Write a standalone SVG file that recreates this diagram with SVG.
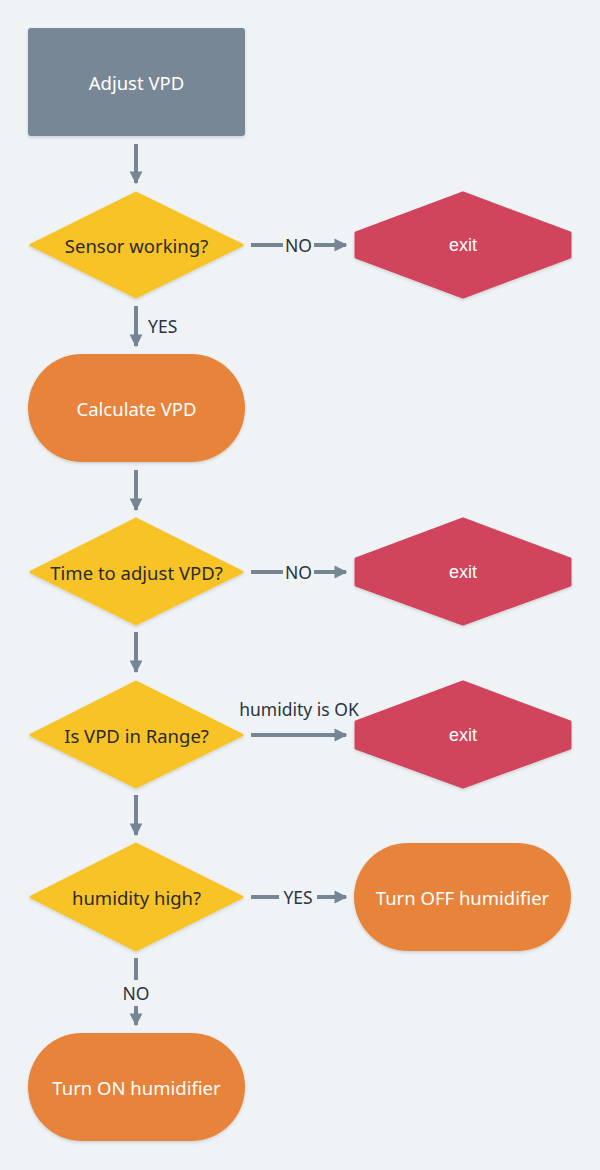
<svg xmlns="http://www.w3.org/2000/svg" width="600" height="1170" viewBox="0 0 600 1170">
<defs>
<marker id="ah" viewBox="0 0 10 10" refX="9" refY="5" markerWidth="3.2" markerHeight="3.4" orient="auto" markerUnits="strokeWidth">
<path d="M0,0 L10,5 L0,10 z" fill="#768594"/>
</marker>
<filter id="sh" x="-10%" y="-10%" width="120%" height="130%">
<feDropShadow dx="0" dy="1.5" stdDeviation="1.5" flood-color="#000" flood-opacity="0.15"/>
</filter>
<style>
.t{font-family:"Noto Sans","DejaVu Sans",sans-serif;font-size:18.5px;text-anchor:middle;dominant-baseline:central}
.w{fill:#ffffff}
.d{fill:#2b2b2b}
.x{font-family:"Liberation Sans",Arial,sans-serif;font-size:18px}
.l{font-family:"Noto Sans","DejaVu Sans",sans-serif;font-size:17.5px;fill:#2b3440;dominant-baseline:central}
.c{stroke:#768594;stroke-width:4;fill:none}
.dia{fill:#f7c325;stroke:#f7c325;stroke-width:3;stroke-linejoin:round;filter:url(#sh)}
.ex{fill:#d1445c;stroke:#d1445c;stroke-width:3;stroke-linejoin:round;filter:url(#sh)}
.or{fill:#e8833a;filter:url(#sh)}
</style>
</defs>
<rect width="600" height="1170" fill="#eff3f6"/>
<g id="connectors">
<line class="c" x1="136" y1="144" x2="136" y2="183" marker-end="url(#ah)"/>
<line class="c" x1="251" y1="245" x2="283" y2="245"/>
<line class="c" x1="314" y1="245" x2="346" y2="245" marker-end="url(#ah)"/>
<text class="l" x="298.5" y="245" text-anchor="middle">NO</text>
<line class="c" x1="136" y1="306" x2="136" y2="346" marker-end="url(#ah)"/>
<text class="l" x="148" y="326">YES</text>
<line class="c" x1="136" y1="470" x2="136" y2="510" marker-end="url(#ah)"/>
<line class="c" x1="251" y1="572" x2="283" y2="572"/>
<line class="c" x1="314" y1="572" x2="346" y2="572" marker-end="url(#ah)"/>
<text class="l" x="298.5" y="572" text-anchor="middle">NO</text>
<line class="c" x1="136" y1="632" x2="136" y2="672" marker-end="url(#ah)"/>
<line class="c" x1="251" y1="735" x2="346" y2="735" marker-end="url(#ah)"/>
<text class="l" x="299" y="709" text-anchor="middle">humidity is OK</text>
<line class="c" x1="136" y1="795" x2="136" y2="835" marker-end="url(#ah)"/>
<line class="c" x1="251" y1="897" x2="279" y2="897"/>
<line class="c" x1="317" y1="897" x2="346" y2="897" marker-end="url(#ah)"/>
<text class="l" x="298" y="897" text-anchor="middle">YES</text>
<line class="c" x1="136" y1="958" x2="136" y2="980"/>
<line class="c" x1="136" y1="1006" x2="136" y2="1025" marker-end="url(#ah)"/>
<text class="l" x="136" y="993" text-anchor="middle">NO</text>
</g>
<g id="start">
<rect x="28" y="28" width="217" height="108" rx="3" fill="#778796" filter="url(#sh)"/>
<text class="t w" x="136.5" y="82">Adjust VPD</text>
</g>
<g id="d1">
<polygon class="dia" points="136,193 242,245 136,297 31,245"/>
<text class="t d" x="136.5" y="245">Sensor working?</text>
</g>
<g id="exit1">
<polygon class="ex" points="463,193 570,233 570,257 463,297 356,257 356,233"/>
<text class="t w x" x="463" y="245">exit</text>
</g>
<g id="calc">
<rect x="28" y="354" width="217" height="108" rx="54" class="or"/>
<text class="t w" x="136.5" y="408">Calculate VPD</text>
</g>
<g id="d2">
<polygon class="dia" points="136,519 242,572 136,624 31,572"/>
<text class="t d" x="136.5" y="572">Time to adjust VPD?</text>
</g>
<g id="exit2">
<polygon class="ex" points="463,519 570,559 570,585 463,624 356,585 356,559"/>
<text class="t w x" x="463" y="572">exit</text>
</g>
<g id="d3">
<polygon class="dia" points="136,682 242,735 136,787 31,735"/>
<text class="t d" x="136.5" y="735">Is VPD in Range?</text>
</g>
<g id="exit3">
<polygon class="ex" points="463,682 570,722 570,748 463,787 356,748 356,722"/>
<text class="t w x" x="463" y="735">exit</text>
</g>
<g id="d4">
<polygon class="dia" points="136,844 242,897 136,950 31,897"/>
<text class="t d" x="136.5" y="897">humidity high?</text>
</g>
<g id="off">
<rect x="354" y="843" width="217" height="108" rx="54" class="or"/>
<text class="t w" x="462.5" y="897">Turn OFF humidifier</text>
</g>
<g id="on">
<rect x="28" y="1033" width="217" height="108" rx="54" class="or"/>
<text class="t w" x="136.5" y="1087">Turn ON humidifier</text>
</g>
</svg>
